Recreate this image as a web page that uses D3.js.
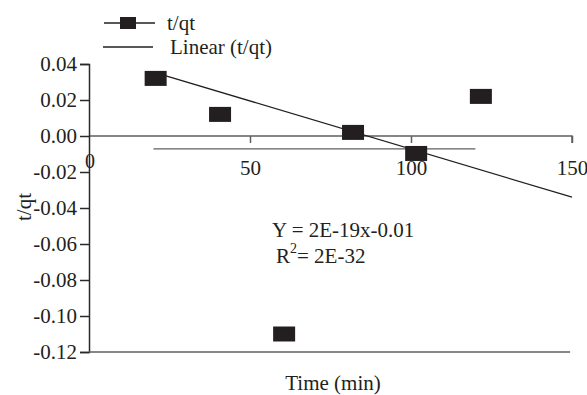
<!DOCTYPE html>
<html>
<head>
<meta charset="utf-8">
<script src="https://cdn.jsdelivr.net/npm/d3@7"></script>
<style>
  html, body { margin: 0; padding: 0; background: #fff; }
  svg { display: block; }
  text { font-family: "Liberation Serif", "Times New Roman", serif; fill: #231f20; }
</style>
</head>
<body>
<svg id="chart" width="587" height="395"></svg>
<script>
// ---- data ----
const timeMin = [20.7, 40.7, 60.6, 82, 101.6, 121.7];
const tqt = [0.032, 0.012, -0.11, 0.002, -0.0097, 0.022];
const trendX = [20, 150];
const trendY = [0.0355, -0.034];
const meanX = [20, 120];
const meanY = [-0.0072, -0.0072];
const xTicks = [50, 100, 150];
const yTicks = [0.04, 0.02, 0.00, -0.02, -0.04, -0.06, -0.08, -0.10, -0.12];
const legendLabels = ["t/qt", "Linear (t/qt)"];
const eqLine1 = "Y = 2E-19x-0.01";
const eqLine2a = "R";
const eqLine2b = "2";
const eqLine2c = "= 2E-32";

const svg = d3.select("#chart");
const ink = "#231f20";
const axisCol = "#2a2a2a";
const grayCol = "#5f5f5f";
const FS = "21px";
const FF = "Liberation Serif, Times New Roman, serif";

const x = d3.scaleLinear().domain([0, 150]).range([89, 572]);
const y = d3.scaleLinear().domain([-0.12, 0.04]).range([352, 64]);

const fmtY = (d) => d3.format(".2f")(d).replace("\u2212", "-");

// x axis at y=0
const xAxis = d3.axisBottom(x).tickValues(xTicks).tickSize(7).tickPadding(17)
  .tickFormat(d3.format("d"));
const gx = svg.append("g").attr("transform", `translate(0,${y(0)})`).call(xAxis)
  .attr("font-family", FF).attr("font-size", FS);
gx.select(".domain").attr("stroke", grayCol).attr("stroke-width", 1.5)
  .attr("d", `M${x(0)},0H${x(150)}V7`);
gx.selectAll(".tick line").attr("stroke", grayCol).attr("stroke-width", 1.5);
gx.selectAll(".tick text").attr("fill", ink);

// y axis
const yAxis = d3.axisLeft(y).tickValues(yTicks).tickSize(9).tickPadding(3).tickFormat(fmtY);
const gy = svg.append("g").attr("transform", `translate(${x(0)},0)`).call(yAxis)
  .attr("font-family", FF).attr("font-size", FS);
gy.select(".domain").attr("stroke", axisCol).attr("stroke-width", 1.5);
gy.selectAll(".tick line").attr("stroke", axisCol).attr("stroke-width", 1.5);
gy.selectAll(".tick text").attr("fill", ink);

// "0" label near origin
svg.append("text").attr("x", x(0) + 1).attr("y", y(0) + 32)
  .attr("text-anchor", "middle").style("font-size", "20px").text("0");

// bottom frame line
svg.append("line").attr("x1", x(0)).attr("x2", x(149.4))
  .attr("y1", y(-0.12)).attr("y2", y(-0.12))
  .attr("stroke", grayCol).attr("stroke-width", 1.5);

// flat line
svg.append("line").attr("x1", x(meanX[0])).attr("x2", x(meanX[1]))
  .attr("y1", y(meanY[0])).attr("y2", y(meanY[1]))
  .attr("stroke", grayCol).attr("stroke-width", 1.3);

// trend line
svg.append("line").attr("x1", x(trendX[0])).attr("x2", x(trendX[1]))
  .attr("y1", y(trendY[0])).attr("y2", y(trendY[1]))
  .attr("stroke", ink).attr("stroke-width", 1.3);

// markers
const mw = 22, mh = 15;
svg.append("g").selectAll("rect").data(timeMin).join("rect")
  .attr("x", (d) => x(d) - mw / 2)
  .attr("y", (d, i) => y(tqt[i]) - mh / 2)
  .attr("width", mw).attr("height", mh)
  .attr("fill", ink);

// axis titles
svg.append("text").attr("transform", `translate(31,207) rotate(-90)`)
  .attr("text-anchor", "middle").style("font-size", FS).text("t/qt");
svg.append("text").attr("x", 333).attr("y", 390)
  .attr("text-anchor", "middle").style("font-size", FS).text("Time (min)");

// equation
svg.append("text").attr("x", 272).attr("y", 237).style("font-size", FS).text(eqLine1);
const t2 = svg.append("text").attr("x", 276).attr("y", 263).style("font-size", FS);
t2.append("tspan").text(eqLine2a);
t2.append("tspan").attr("dy", -10).style("font-size", "14px").text(eqLine2b);
t2.append("tspan").attr("dy", 10).text(eqLine2c);

// legend
const lg = svg.append("g");
lg.append("line").attr("x1", 104).attr("x2", 155).attr("y1", 23).attr("y2", 23)
  .attr("stroke", ink).attr("stroke-width", 1.3);
lg.append("rect").attr("x", 120).attr("y", 17).attr("width", 16).attr("height", 12).attr("fill", ink);
lg.append("text").attr("x", 167).attr("y", 30).style("font-size", FS).text(legendLabels[0]);
lg.append("line").attr("x1", 103).attr("x2", 153).attr("y1", 47).attr("y2", 47)
  .attr("stroke", ink).attr("stroke-width", 1.3);
lg.append("text").attr("x", 170).attr("y", 54).style("font-size", FS).text(legendLabels[1]);
</script>
</body>
</html>
